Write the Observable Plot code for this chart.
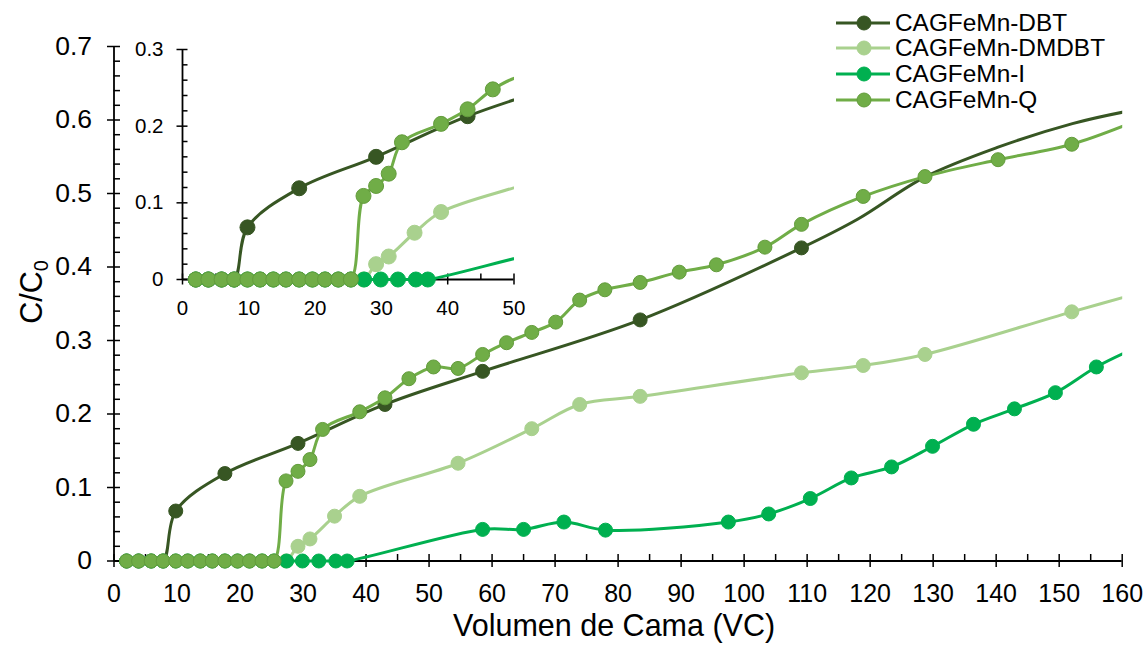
<!DOCTYPE html>
<html><head><meta charset="utf-8">
<script src="https://cdn.jsdelivr.net/npm/d3@7"></script>
<script src="https://cdn.jsdelivr.net/npm/@observablehq/plot@0.6"></script>
<style>
html,body{margin:0;padding:0;background:#fff;}
body{font-family:"Liberation Sans",Arial,sans-serif;color:#000;}
#wrap{position:relative;width:1148px;height:645px;overflow:hidden;background:#fff;}
#main{position:absolute;left:0;top:0;}
#inset{position:absolute;left:132px;top:39px;}
#ytitle{position:absolute;left:33px;top:292px;transform:translate(-50%,-50%) rotate(-90deg);font-size:30.5px;white-space:nowrap;line-height:1;}
#ytitle sub{font-size:20px;vertical-align:-6px;}
.leg{position:absolute;left:836px;height:26px;display:flex;align-items:center;font-size:24.4px;white-space:nowrap;}
.leg svg{margin-right:5px;}
</style></head><body>
<div id="wrap">
  <div id="main"></div>
  <div id="inset"></div>
  <div id="ytitle">C/C<sub>0</sub></div>
  <div id="legend"></div>
</div>
<script>
const FONT = '"Liberation Sans", Arial, sans-serif';
const seriesNames = ["CAGFeMn-DBT","CAGFeMn-DMDBT","CAGFeMn-I","CAGFeMn-Q"];
const seriesColors = ["#375623","#A9D18E","#00B050","#70AD47"];

// CAGFeMn-DBT (measured points, with markers)
const dbtX = [2.0,3.9,5.9,7.8,9.8,17.6,29.2,43.0,58.5,83.5,109.1];
const dbtY = [0,0,0,0,0.068,0.119,0.160,0.213,0.258,0.328,0.426];
// CAGFeMn-DBT trend continuation (line only, no markers)
const dbtTrendX = [118.0,128.6,140.3,152.1,160.3,168.0];
const dbtTrendY = [0.465,0.522,0.563,0.595,0.611,0.622];

// CAGFeMn-DMDBT
const dmdbtX = [2.0,3.9,5.9,7.8,9.8,11.7,13.7,15.6,17.6,19.6,21.5,23.5,25.4,27.3,29.2,31.1,35.0,39.0,54.6,66.3,73.9,83.5,109.1,118.9,128.7,152.0,165.0];
const dmdbtY = [0,0,0,0,0,0,0,0,0,0,0,0,0,0,0.020,0.030,0.061,0.088,0.133,0.180,0.213,0.224,0.256,0.266,0.281,0.339,0.370];

// CAGFeMn-I
const iX = [2.0,3.9,5.9,7.8,9.8,11.7,13.7,15.6,17.6,19.6,21.5,23.5,25.4,27.4,29.9,32.5,35.2,37.0,58.5,65.0,71.4,78.0,97.5,103.9,110.5,117.0,123.4,129.9,136.4,142.9,149.4,155.9,162.4];
const iY = [0,0,0,0,0,0,0,0,0,0,0,0,0,0,0,0,0,0,0.043,0.043,0.053,0.042,0.053,0.064,0.085,0.113,0.128,0.156,0.186,0.207,0.229,0.264,0.291];

// CAGFeMn-Q
const qX = [2.0,3.9,5.9,7.8,9.8,11.7,13.7,15.6,17.6,19.6,21.5,23.5,25.4,27.3,29.2,31.1,33.1,39.0,43.0,46.8,50.7,54.6,58.5,62.3,66.3,70.1,73.9,77.9,83.5,89.7,95.6,103.3,109.1,118.9,128.7,140.3,152.0,164.0];
const qY = [0,0,0,0,0,0,0,0,0,0,0,0,0,0.109,0.122,0.138,0.179,0.203,0.222,0.248,0.264,0.262,0.281,0.297,0.311,0.325,0.355,0.369,0.379,0.393,0.403,0.427,0.458,0.496,0.523,0.546,0.567,0.605];

// Axis ticks
const mainXTicks = [0,10,20,30,40,50,60,70,80,90,100,110,120,130,140,150,160];
const mainYTicks = [0,0.1,0.2,0.3,0.4,0.5,0.6,0.7];
const insetXTicks = [0,10,20,30,40,50];
const insetYTicks = [0,0.1,0.2,0.3];
const yFmt = d => d === 0 ? "0" : d.toFixed(1);

const zip = (xs, ys, s) => xs.map((x, i) => ({x, y: ys[i], s}));
const markerSets = [
  zip(dbtX, dbtY, 0),
  zip(dmdbtX, dmdbtY, 1),
  zip(iX, iY, 2),
  zip(qX, qY, 3)
];
const lineSets = [
  zip(dbtX, dbtY, 0).concat(zip(dbtTrendX, dbtTrendY, 0)),
  markerSets[1], markerSets[2], markerSets[3]
];

function minorTicks(max, step, majorStep) {
  return d3.range(step, max + 1e-9, step).filter(v => Math.abs(v / majorStep - Math.round(v / majorStep)) > 1e-6);
}

function seriesMarks(xmax, r, lw) {
  const marks = [];
  for (let s = 0; s < 4; s++) {
    marks.push(Plot.line(lineSets[s], {x: "x", y: "y", stroke: seriesColors[s], strokeWidth: lw, curve: "catmull-rom"}));
    marks.push(Plot.dot(markerSets[s].filter(d => d.x <= xmax), {
      x: "x", y: "y", r, fill: seriesColors[s],
      stroke: s === 3 ? "#639c3c" : seriesColors[s], strokeWidth: 1
    }));
  }
  return marks;
}

function axisMarks(xT, yT, xMinor, yMinor, fsX, fsY, padX, padY, tk) {
  const none = () => "";
  return [
    Plot.axisY(yT, {tickSize: 0, tickPadding: padY, tickFormat: yFmt, fontSize: fsY, label: null}),
    Plot.axisY(yT, {tickSize: 2 * tk, dx: tk, tickFormat: none, label: null, strokeWidth: 1.5}),
    Plot.axisY(yMinor, {tickSize: tk, dx: tk, tickFormat: none, label: null, strokeWidth: 1.5}),
    Plot.axisX(xT, {tickSize: 0, tickPadding: padX, fontSize: fsX, label: null}),
    Plot.axisX(xT, {tickSize: 2 * tk, dy: -tk, tickFormat: none, label: null, strokeWidth: 1.5}),
    Plot.axisX(xMinor, {tickSize: tk, dy: -tk, tickFormat: none, label: null, strokeWidth: 1.5}),
    Plot.ruleX([0], {stroke: "#000", strokeWidth: 1.8}),
    Plot.ruleY([0], {stroke: "#000", strokeWidth: 1.8})
  ];
}

function clipLines(svg, x0, x1, h) {
  const ns = "http://www.w3.org/2000/svg";
  const id = "c" + Math.random().toString(36).slice(2);
  const defs = document.createElementNS(ns, "defs");
  const cp = document.createElementNS(ns, "clipPath");
  cp.setAttribute("id", id);
  const rect = document.createElementNS(ns, "rect");
  rect.setAttribute("x", x0); rect.setAttribute("y", -50);
  rect.setAttribute("width", x1 - x0); rect.setAttribute("height", h + 100);
  cp.appendChild(rect); defs.appendChild(cp);
  svg.insertBefore(defs, svg.firstChild);
  svg.querySelectorAll('g[aria-label="line"]').forEach(g => g.setAttribute("clip-path", `url(#${id})`));
}

// Main chart
const M = {w: 1148, h: 645, l: 113.5, r: 26.3, t: 46, b: 84.5};
const main = Plot.plot({
  width: M.w, height: M.h,
  marginLeft: M.l, marginRight: M.r, marginTop: M.t, marginBottom: M.b,
  x: {domain: [0, 160], label: null},
  y: {domain: [0, 0.7], label: null},
  style: {fontFamily: FONT, fontSize: "25px", color: "#000", background: "transparent", overflow: "visible"},
  marks: [
    ...axisMarks(mainXTicks, mainYTicks, minorTicks(160, 5, 10), minorTicks(0.7, 0.02, 0.1), 25, 26.5, 23, 22, 6.5),
    ...seriesMarks(160, 7, 3),
    Plot.text(["Volumen de Cama (VC)"], {frameAnchor: "bottom", lineAnchor: "bottom", dy: 75, dx: -4, fontSize: 30.5, fill: "#000"})
  ]
});
clipLines(main, M.l, M.w - M.r, M.h);
document.getElementById("main").appendChild(main);

// Inset chart
const I = {l: 50, r: 10, t: 10, b: 40, fw: 331.5, fh: 230};
const inset = Plot.plot({
  width: I.l + I.fw + I.r, height: I.t + I.fh + I.b,
  marginLeft: I.l, marginRight: I.r, marginTop: I.t, marginBottom: I.b,
  x: {domain: [0, 50], label: null},
  y: {domain: [0, 0.3], label: null},
  style: {fontFamily: FONT, fontSize: "20.5px", color: "#000", background: "transparent", overflow: "visible"},
  marks: [
    ...axisMarks(insetXTicks, insetYTicks, minorTicks(50, 5, 10), minorTicks(0.3, 0.02, 0.1), 20.5, 20.5, 20.7, 19, 5.5),
    ...seriesMarks(50, 7.5, 3)
  ]
});
clipLines(inset, I.l, I.l + I.fw, I.t + I.fh + I.b);
document.getElementById("inset").appendChild(inset);

// Legend
const legendTops = [22.7, 48.3, 74, 100];
const legend = document.getElementById("legend");
seriesNames.forEach((name, i) => {
  const row = document.createElement("div");
  row.className = "leg";
  row.style.top = (legendTops[i] - 13) + "px";
  const c = seriesColors[i];
  row.innerHTML = `<svg width="54" height="26"><line x1="0" x2="54" y1="13" y2="13" stroke="${c}" stroke-width="3"/><circle cx="28" cy="13" r="7" fill="${c}" stroke="${i === 3 ? "#639c3c" : c}"/></svg><span>${name}</span>`;
  legend.appendChild(row);
});
</script>
</body></html>
